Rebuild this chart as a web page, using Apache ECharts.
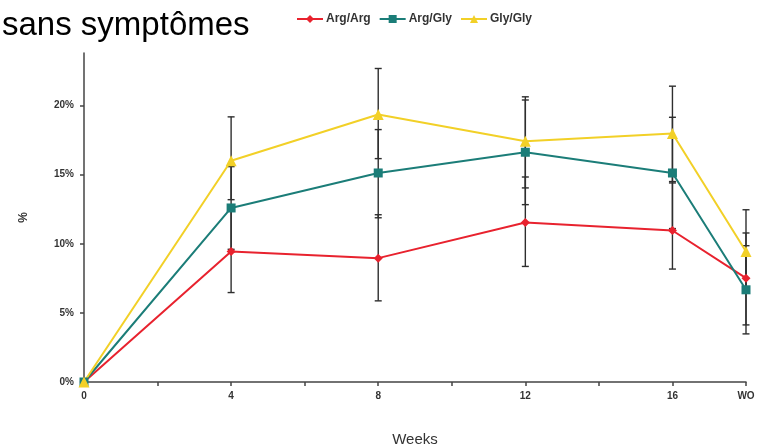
<!DOCTYPE html>
<html>
<head>
<meta charset="utf-8">
<script src="https://cdn.jsdelivr.net/npm/echarts@6/dist/echarts.min.js"></script>
<style>
html,body{margin:0;padding:0;background:#fff;}
#chart{width:769px;height:446px;}
</style>
</head>
<body>
<div id="chart"></div>
<script>
const titleText = 'sans symptômes';
const seriesNames = ['Arg/Arg', 'Arg/Gly', 'Gly/Gly'];
const weeks = [0, 4, 8, 12, 16, 18];
const xTickLabels = {0: '0', 4: '4', 8: '8', 12: '12', 16: '16', 18: 'WO'};
const yTicks = [0, 5, 10, 15, 20];

const argArg = [0, 9.44, 8.96, 11.54, 10.96, 7.51];
const argGly = [0, 12.59, 15.12, 16.62, 15.12, 6.67];
const glyGly = [0, 16.01, 19.35, 17.41, 17.97, 9.44];

const argArgLow  = [0, 6.47, 5.87, 8.36, 8.17, 4.13];
const argArgHigh = [0, 12.4, 12.1, 14.83, 14.4, 10.78];
const argGlyLow  = [0, 9.6, 11.88, 12.83, 11.1, 3.48];
const argGlyHigh = [0, 15.58, 18.26, 20.4, 19.15, 9.86];
const glyGlyLow  = [0, 13.19, 16.16, 14.04, 14.5, 6.42];
const glyGlyHigh = [0, 19.18, 22.68, 20.63, 21.4, 12.46];

const colors = ['#e8222e', '#1b7d78', '#f2d027'];
const symbols = ['diamond', 'rect', 'triangle'];
const symbolSizes = [9, 9, 11];
const values = [argArg, argGly, glyGly];
const lows = [argArgLow, argGlyLow, glyGlyLow];
const highs = [argArgHigh, argGlyHigh, glyGlyHigh];

const chart = echarts.init(document.getElementById('chart'), null, {renderer: 'canvas'});

function errorSeries(i) {
  const data = weeks.map((w, k) => [w, lows[i][k], highs[i][k]]).filter(d => d[2] > d[1]);
  return {
    type: 'custom',
    name: seriesNames[i] + ' err',
    z: 1,
    silent: true,
    renderItem: function (params, api) {
      const x = api.value(0);
      const lo = api.coord([x, api.value(1)]);
      const hi = api.coord([x, api.value(2)]);
      const half = 3.5;
      const st = {stroke: '#2e2e2e', lineWidth: 1.4};
      return {
        type: 'group',
        children: [
          {type: 'line', shape: {x1: lo[0], y1: lo[1], x2: hi[0], y2: hi[1]}, style: st},
          {type: 'line', shape: {x1: lo[0] - half, y1: lo[1], x2: lo[0] + half, y2: lo[1]}, style: st},
          {type: 'line', shape: {x1: hi[0] - half, y1: hi[1], x2: hi[0] + half, y2: hi[1]}, style: st}
        ]
      };
    },
    data: data
  };
}

function lineSeries(i) {
  return {
    type: 'line',
    name: seriesNames[i],
    z: 3,
    data: weeks.map((w, k) => [w, values[i][k]]),
    symbol: symbols[i],
    symbolSize: symbolSizes[i],
    showAllSymbol: true,
    lineStyle: {color: colors[i], width: 2},
    itemStyle: {color: colors[i]},
    emphasis: {disabled: true}
  };
}

const option = {
  animation: false,
  backgroundColor: '#ffffff',
  title: {
    text: titleText,
    left: -3,
    top: 4,
    textStyle: {fontFamily: 'Liberation Sans', fontSize: 33, fontWeight: 'normal', color: '#000'}
  },
  legend: {
    data: seriesNames,
    left: 291,
    top: 8,
    itemWidth: 26,
    itemHeight: 10,
    itemGap: 8,
    textStyle: {fontFamily: 'Liberation Sans', fontSize: 12, fontWeight: 'bold', color: '#333', padding: [0, 0, 0, -2]}
  },
  grid: {left: 84, right: 23, top: 53, bottom: 64, containLabel: false, outerBoundsMode: 'none'},
  xAxis: {
    type: 'value',
    min: 0, max: 18, interval: 2,
    name: 'Weeks',
    nameLocation: 'middle',
    nameGap: 50,
    nameTextStyle: {fontFamily: 'Liberation Sans', fontSize: 15, color: '#333'},
    axisLine: {lineStyle: {color: '#444', width: 1.5}},
    axisTick: {show: true, length: 4, inside: false, lineStyle: {color: '#444', width: 1.5}},
    axisLabel: {
      fontFamily: 'Liberation Sans', fontSize: 10, fontWeight: 'bold', color: '#333', margin: 9,
      formatter: function (v) { return xTickLabels[v] !== undefined ? xTickLabels[v] : ''; }
    },
    splitLine: {show: false}
  },
  yAxis: {
    type: 'value',
    min: 0, max: 23.8,
    name: '%',
    nameLocation: 'middle',
    nameGap: 54,
    nameRotate: 90,
    nameTextStyle: {fontFamily: 'Liberation Sans', fontSize: 12, fontWeight: 'bold', color: '#333'},
    axisLine: {show: true, lineStyle: {color: '#444', width: 1.5}},
    axisTick: {show: true, length: 4, customValues: yTicks, lineStyle: {color: '#444', width: 1.5}},
    axisLabel: {
      customValues: yTicks,
      fontFamily: 'Liberation Sans', fontSize: 10, fontWeight: 'bold', color: '#333', margin: 10,
      formatter: '{value}%'
    },
    splitLine: {show: false}
  },
  series: [
    errorSeries(0), errorSeries(1), errorSeries(2),
    lineSeries(0), lineSeries(1), lineSeries(2)
  ]
};
chart.setOption(option);
</script>
</body>
</html>
